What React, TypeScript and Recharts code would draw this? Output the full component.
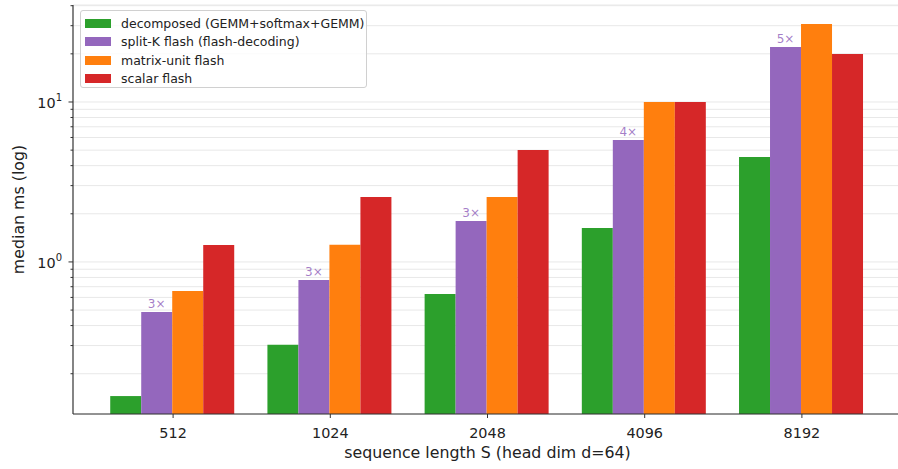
import { BarChart, Bar, XAxis, YAxis, CartesianGrid, LabelList } from 'recharts';

const categories = ['512', '1024', '2048', '4096', '8192'];
const decomposed = [0.145, 0.303, 0.631, 1.63, 4.53];
const splitK = [0.487, 0.772, 1.8, 5.79, 22.1];
const matrixUnit = [0.659, 1.28, 2.55, 10.0, 30.7];
const scalarFlash = [1.277, 2.55, 5.01, 10.0, 19.95];
const speedups = ['3×', '3×', '3×', '4×', '5×'];

const series = [
  { key: 'decomposed', name: 'decomposed (GEMM+softmax+GEMM)', color: '#2ca02c' },
  { key: 'splitK', name: 'split-K flash (flash-decoding)', color: '#9467bd' },
  { key: 'matrixUnit', name: 'matrix-unit flash', color: '#ff7f0e' },
  { key: 'scalarFlash', name: 'scalar flash', color: '#d62728' },
];

const yTicks = [
  0.2, 0.3, 0.4, 0.5, 0.6, 0.7, 0.8, 0.9, 1, 2, 3, 4, 5, 6, 7, 8, 9, 10, 20, 30, 40,
];

const data = categories.map((c, i) => ({
  seq: c,
  decomposed: decomposed[i],
  splitK: splitK[i],
  matrixUnit: matrixUnit[i],
  scalarFlash: scalarFlash[i],
  speedup: speedups[i],
}));

const FONT = '"DejaVu Sans", sans-serif';
const SPINE = '#333';

function YTick(props: any) {
  const { x, y, payload } = props;
  const v = payload.value;
  const major = v === 1 || v === 10;
  return (
    <g>
      <line x1={x - (major ? 4.5 : 2.5)} x2={x} y1={y} y2={y} stroke={SPINE} strokeWidth={1} />
      {major && (
        <text x={x - 11} y={y} dy="0.4em" textAnchor="end" fontSize={14.4} fill="#222" fontFamily={FONT}>
          10
          <tspan dy={-7} fontSize={10}>
            {v === 1 ? '0' : '1'}
          </tspan>
        </text>
      )}
    </g>
  );
}

function SpeedupLabel(props: any) {
  const { x, y, width, value } = props;
  return (
    <text
      x={x + width / 2}
      y={y - 4}
      textAnchor="middle"
      fontSize={12}
      fill="#9467bd"
      fillOpacity={0.85}
      fontFamily={FONT}
    >
      {value}
    </text>
  );
}

export default function App() {
  return (
    <div style={{ position: 'absolute', left: 0, top: 0, width: 898, height: 469, overflow: 'hidden', background: '#fff' }}>
      <BarChart
        width={902}
        height={469}
        data={data}
        margin={{ top: 5, right: 0, bottom: 0, left: 0 }}
        barCategoryGap="10%"
        barGap={0}
      >
        <CartesianGrid vertical={false} stroke="#e8e8e8" />
        <XAxis
          dataKey="seq"
          height={55}
          padding={{ left: 21.5, right: 21.5 }}
          axisLine={{ stroke: SPINE, strokeWidth: 1.2 }}
          tickLine={{ stroke: SPINE }}
          tickSize={4}
          tickMargin={10}
          tick={{ fontSize: 14.4, fill: '#222', fontFamily: FONT }}
          label={{
            value: 'sequence length S (head dim d=64)',
            position: 'insideBottom',
            offset: 11,
            style: { fontSize: 15.8, fill: '#222', fontFamily: FONT },
          }}
        />
        <XAxis
          xAxisId="top"
          dataKey="seq"
          orientation="top"
          height={0}
          tick={false}
          tickLine={false}
          axisLine={{ stroke: SPINE, strokeWidth: 1.2 }}
        />
        <YAxis
          scale="log"
          domain={[0.112, 40.4]}
          allowDataOverflow
          ticks={yTicks}
          interval={0}
          width={73}
          tickSize={0}
          tickMargin={0}
          tick={<YTick />}
          axisLine={{ stroke: SPINE, strokeWidth: 1.2 }}
          tickLine={false}
          label={{
            value: 'median ms (log)',
            angle: -90,
            position: 'insideLeft',
            offset: 18,
            style: { fontSize: 15.8, fill: '#222', fontFamily: FONT, textAnchor: 'middle' },
          }}
        />
        {series.map((s) => (
          <Bar key={s.key} dataKey={s.key} name={s.name} fill={s.color} isAnimationActive={false}>
            {s.key === 'splitK' && <LabelList dataKey="speedup" content={<SpeedupLabel />} />}
          </Bar>
        ))}
      </BarChart>
      <div
        style={{
          position: 'absolute',
          left: 80,
          top: 10,
          width: 285,
          height: 76,
          border: '1px solid #d0d0d0',
          borderRadius: 3,
          background: 'rgba(255,255,255,0.8)',
          fontFamily: FONT,
          fontSize: 12.5,
          color: '#222',
        }}
      >
        {series.map((s, i) => (
          <div
            key={s.key}
            style={{ position: 'absolute', left: 4, top: 4 + i * 18.5, height: 16, display: 'flex', alignItems: 'center' }}
          >
            <span style={{ display: 'inline-block', width: 26, height: 9, background: s.color }} />
            <span style={{ marginLeft: 10, whiteSpace: 'nowrap' }}>{s.name}</span>
          </div>
        ))}
      </div>
    </div>
  );
}
